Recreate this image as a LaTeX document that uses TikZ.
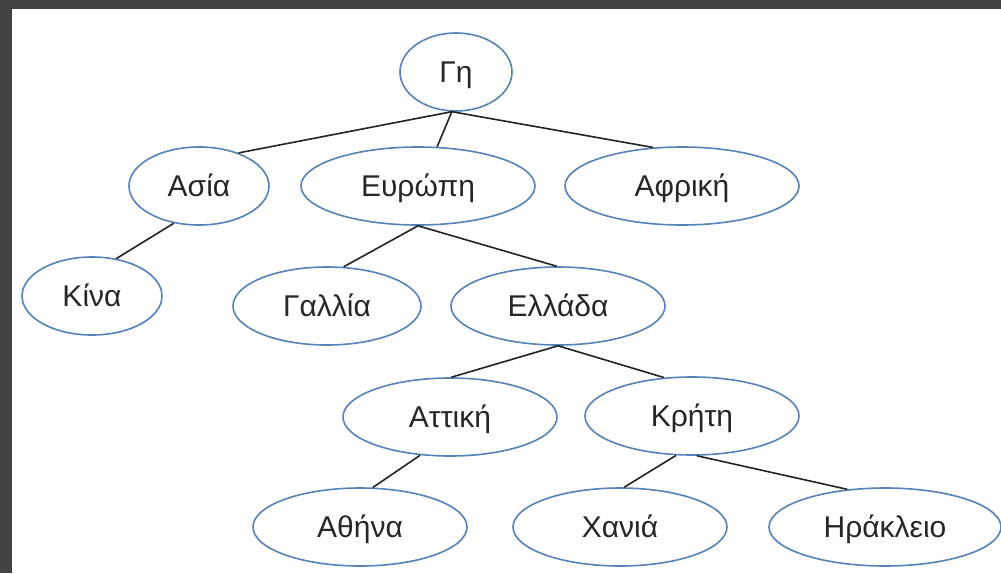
\documentclass[tikz,border=0pt]{standalone}
\usepackage{fontspec}
\setmainfont{Liberation Sans}
\usetikzlibrary{shapes.geometric}
\definecolor{frame}{RGB}{67,67,67}
\definecolor{ellblue}{RGB}{84,130,185}
\definecolor{linegray}{RGB}{35,35,35}
\tikzset{
  bubble/.style={ellipse, draw=ellblue, line width=1.6pt, inner sep=0pt,
    minimum height=78pt, font=\fontsize{30}{34}\selectfont,
    text height=21.5pt, text depth=0pt, text=black!85},
  link/.style={draw=linegray, line width=1.6pt}
}
\begin{document}
\begin{tikzpicture}[x=1pt,y=-1pt]
\fill[frame] (0,0) rectangle (1001,573);
\fill[white] (12,9) rectangle (1001,573);
\useasboundingbox (0,0) rectangle (1001,573);
\node[bubble, minimum width=112pt] (gi) at (456,72) {Γη};
\node[bubble, minimum width=140pt] (asia) at (199,186) {Ασία};
\node[bubble, minimum width=234pt] (evr) at (418,186) {Ευρώπη};
\node[bubble, minimum width=234pt] (afr) at (682,186) {Αφρική};
\node[bubble, minimum width=140pt] (kina) at (92,296) {Κίνα};
\node[bubble, minimum width=188pt] (gal) at (327,306) {Γαλλία};
\node[bubble, minimum width=214pt] (ell) at (558,306) {Ελλάδα};
\node[bubble, minimum width=214pt] (att) at (450,417) {Αττική};
\node[bubble, minimum width=214pt] (kri) at (692,416) {Κρήτη};
\node[bubble, minimum width=214pt] (ath) at (360,527) {Αθήνα};
\node[bubble, minimum width=214pt] (xan) at (620,527) {Χανιά};
\node[bubble, minimum width=232pt] (ira) at (885,527) {Ηράκλειο};
\draw[link] (gi.264) -- (asia.40);
\draw[link] (gi.264) -- (evr.64);
\draw[link] (gi.264) -- (afr.127);
\draw[link] (asia.236) -- (kina.57);
\draw[link] (evr.south) -- (gal.67);
\draw[link] (evr.south) -- (ell.92);
\draw[link] (ell.south) -- (att.88);
\draw[link] (ell.south) -- (kri.126);
\draw[link] (att.232) -- (ath.72);
\draw[link] (kri.248) -- (xan.84);
\draw[link] (kri.277) -- (ira.135);
\end{tikzpicture}
\end{document}
